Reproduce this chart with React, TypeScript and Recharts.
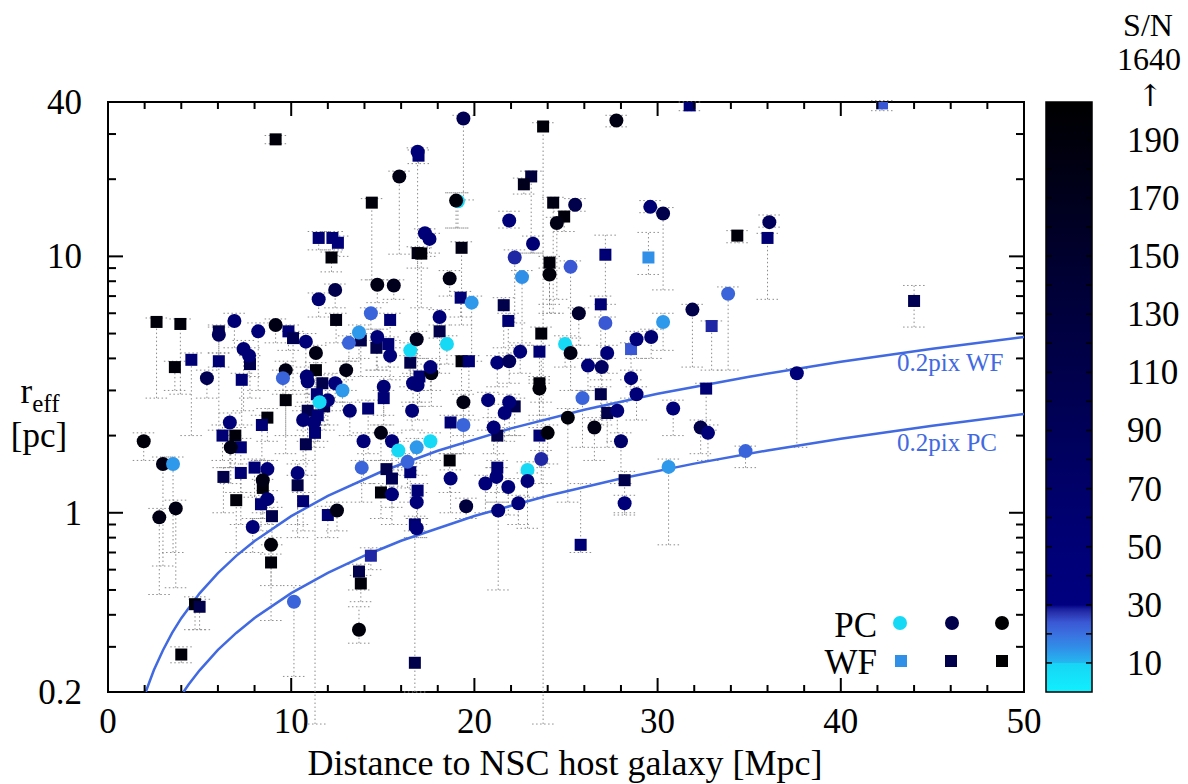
import { ScatterChart, Scatter, XAxis, YAxis, ErrorBar, ReferenceArea } from "recharts";

// page layout (px)
const W = 1188;
const H = 784;
const PLOT_LEFT = 108;
const PLOT_TOP = 102;
const PLOT_RIGHT = 1024;
const PLOT_BOTTOM = 692;
const PLOT_W = PLOT_RIGHT - PLOT_LEFT;
const PLOT_H = PLOT_BOTTOM - PLOT_TOP;

const FONT = "'Liberation Serif', 'DejaVu Serif', serif";
const CURVE_COLOR = "#4169e1";
const ERR_COLOR = "#8c8c8c";

const X_TICKS = [0, 2, 4, 6, 8, 10, 12, 14, 16, 18, 20, 22, 24, 26, 28, 30, 32, 34, 36, 38, 40, 42, 44, 46, 48, 50];
const X_LABELS = [0, 10, 20, 30, 40, 50];
const Y_TICKS = [0.2, 0.3, 0.4, 0.5, 0.6, 0.7, 0.8, 0.9, 1, 2, 3, 4, 5, 6, 7, 8, 9, 10, 20, 30, 40];
const Y_LABELS = [0.2, 1, 10, 40];
const Y_MAJOR = [1, 10];
const SN_TICKS = [10, 20, 30, 40, 50, 60, 70, 80, 90, 100, 110, 120, 130, 140, 150, 160, 170, 180, 190];
const SN_LABELS = [10, 30, 50, 70, 90, 110, 130, 150, 170, 190];
const SN_MAX = 203;

// colour palette of the S/N bar
const SN_STOPS: [number, string][] = [
  [0, "#10f0ff"],
  [9.9, "#18d4f4"],
  [10, "#24b8f0"],
  [15, "#3090e8"],
  [20, "#3a70e0"],
  [24, "#3a58d4"],
  [27, "#2a34b0"],
  [28.5, "#1a20a0"],
  [30, "#000080"],
  [60, "#000070"],
  [100, "#000052"],
  [140, "#000036"],
  [180, "#000014"],
  [203, "#000000"],
];

// 0.2 pixel resolution limits
const WF_CURVE_D = [2.06, 2.2, 2.5, 3, 3.5, 4, 5, 6, 7, 8, 10, 12, 15, 18, 22, 26, 30, 35, 40, 45, 50];
const WF_CURVE_R = [0.2, 0.213, 0.243, 0.291, 0.34, 0.388, 0.485, 0.582, 0.679, 0.776, 0.97, 1.164, 1.455, 1.746, 2.134, 2.522, 2.91, 3.395, 3.88, 4.365, 4.85];
const PC_CURVE_D = [4.12, 4.4, 5, 6, 7, 8, 10, 12, 14, 16, 20, 24, 28, 32, 36, 40, 45, 50];
const PC_CURVE_R = [0.2, 0.214, 0.243, 0.292, 0.34, 0.389, 0.486, 0.583, 0.68, 0.778, 0.972, 1.166, 1.361, 1.555, 1.75, 1.944, 2.187, 2.43];

// [distance Mpc, r_eff pc, S/N, lower bound, upper bound]
const PC_POINTS: [number, number, number, number, number][] = [
  [16.9, 25.6, 45, 3.0, 26.5], [19.4, 34.5, 100, 16.6, 35.5], [27.75, 33.9, 180, 32, 35.5],
  [15.9, 20.5, 180, 10.2, 21.5], [19.1, 16.4, 8, 12.9, 17.7], [19.0, 16.5, 190, 12.9, 17.7],
  [21.9, 13.8, 45, 12.9, 15], [25.5, 15.9, 110, 15, 16.8], [24.5, 13.5, 180, 6.8, 14.2],
  [29.6, 15.6, 50, 14.8, 16.5], [30.3, 14.7, 110, 7.4, 15.5], [36.1, 13.6, 90, 13, 14.5],
  [17.3, 12.3, 45, 10, 12.8], [17.55, 11.7, 50, 10.3, 12.3], [23.2, 11.2, 50, 10.3, 12],
  [22.2, 9.9, 28, 5.5, 10.6], [24.1, 8.5, 190, 6.5, 9], [25.25, 9.1, 24, 4.8, 9.6],
  [18.65, 8.2, 180, 7, 8.8], [22.6, 8.3, 15, 4.5, 8.8], [14.7, 7.75, 180, 6.6, 8.1],
  [15.6, 7.7, 170, 6.8, 8.1], [12.4, 7.4, 110, 6.3, 7.8], [11.5, 6.8, 60, 5.8, 7.2],
  [19.85, 6.6, 14, 3.9, 7], [25.7, 6.0, 150, 4.5, 6.3], [31.9, 6.2, 110, 3.7, 6.5],
  [33.85, 7.15, 22, 3.6, 7.6], [18.1, 5.8, 45, 4.8, 6.2], [27.15, 5.5, 24, 4.0, 5.8],
  [30.3, 5.55, 14, 4.3, 6.0], [6.9, 5.6, 50, 4.4, 6], [8.2, 5.1, 45, 3.0, 5.5],
  [9.15, 5.4, 180, 4.6, 5.7], [10.8, 4.65, 45, 2.6, 5.0], [14.35, 6.0, 22, 5.2, 6.3],
  [14.7, 4.85, 45, 3.6, 5.2], [13.7, 5.05, 14, 4.0, 5.4], [13.15, 4.6, 22, 3.9, 4.9],
  [6.05, 4.95, 90, 3.7, 5.3], [7.4, 4.35, 50, 2.5, 4.7], [7.7, 4.1, 50, 3.4, 4.4],
  [5.4, 3.35, 100, 2.8, 3.6], [9.7, 3.6, 180, 2.0, 3.9], [9.55, 3.35, 22, 2.9, 3.6],
  [11.35, 4.2, 180, 2.4, 4.5], [10.85, 3.4, 50, 2.9, 3.7], [10.9, 3.25, 50, 2.1, 3.5],
  [12.4, 3.2, 45, 2.7, 3.5], [13.0, 3.6, 180, 3.0, 3.9], [12.8, 3.0, 14, 2.5, 3.3],
  [15.4, 4.1, 45, 3.3, 4.4], [16.5, 4.3, 8, 3.4, 4.6], [16.85, 4.75, 170, 4.0, 5.1],
  [16.65, 3.2, 45, 2.6, 3.5], [16.9, 3.15, 50, 2.3, 3.4], [15.05, 3.1, 50, 2.4, 3.4],
  [16.6, 2.5, 45, 2.1, 2.7], [13.2, 2.5, 50, 2.0, 2.7], [12.0, 2.75, 45, 2.2, 3.0],
  [11.55, 2.7, 8, 2.2, 2.9], [10.65, 2.3, 50, 1.6, 2.5], [11.25, 2.25, 50, 1.8, 2.45],
  [6.65, 2.25, 45, 1.5, 2.45], [6.7, 1.8, 180, 1.3, 2.0], [1.95, 1.9, 190, 1.6, 2.05],
  [3.0, 1.55, 180, 0.62, 1.65], [3.55, 1.55, 14, 0.7, 1.65], [14.9, 2.05, 180, 1.6, 2.2],
  [13.95, 1.9, 45, 1.3, 2.05], [15.5, 1.9, 45, 1.5, 2.05], [15.85, 1.75, 8, 1.4, 1.9],
  [16.85, 1.8, 14, 1.4, 1.95], [16.35, 1.58, 22, 1.25, 1.7], [13.85, 1.5, 22, 1.1, 1.6],
  [15.5, 1.18, 45, 0.9, 1.27], [8.7, 1.48, 45, 1.1, 1.6], [8.45, 1.34, 180, 1.0, 1.45],
  [10.35, 1.43, 45, 0.8, 1.55], [8.7, 1.13, 50, 0.9, 1.22], [3.7, 1.04, 180, 0.51, 1.12],
  [2.8, 0.96, 180, 0.48, 1.04], [12.5, 1.02, 180, 0.85, 1.1], [17.6, 1.9, 8, 1.6, 2.05],
  [16.85, 1.1, 45, 0.9, 1.2], [16.85, 0.87, 45, 0.8, 0.95], [18.5, 4.55, 8, 3.8, 4.9],
  [17.65, 3.5, 180, 2.6, 3.8], [17.6, 3.7, 45, 3.0, 4.0], [24.95, 4.55, 8, 3.7, 4.9],
  [25.25, 4.2, 180, 3.0, 4.5], [28.85, 4.75, 45, 4.0, 5.1], [29.65, 4.85, 60, 4.0, 5.2],
  [27.25, 4.2, 45, 3.5, 4.5], [21.25, 3.85, 45, 3.1, 4.1], [21.9, 3.9, 90, 3.2, 4.2],
  [22.5, 4.25, 45, 3.5, 4.6], [26.2, 3.75, 45, 3.0, 4.0], [26.95, 3.7, 80, 2.2, 4.0],
  [23.55, 3.05, 190, 2.4, 3.3], [28.55, 3.35, 45, 2.8, 3.6], [25.9, 2.8, 22, 1.8, 3.0],
  [28.85, 2.9, 45, 2.3, 3.1], [19.4, 2.7, 180, 2.0, 2.9], [20.75, 2.75, 45, 2.1, 2.95],
  [21.9, 2.7, 45, 2.0, 2.9], [21.65, 2.45, 45, 1.9, 2.65], [25.1, 2.35, 190, 1.1, 2.55],
  [27.8, 2.5, 45, 1.9, 2.7], [30.85, 2.55, 45, 2.0, 2.75], [19.4, 2.2, 22, 1.7, 2.4],
  [21.05, 2.15, 45, 1.7, 2.35], [24.0, 2.05, 190, 1.55, 2.2], [26.55, 2.15, 180, 1.6, 2.35],
  [32.35, 2.15, 110, 1.7, 2.3], [32.75, 2.05, 45, 1.6, 2.2], [28.0, 1.9, 70, 1.3, 2.05],
  [18.7, 1.36, 45, 1.0, 1.47], [21.2, 1.38, 45, 1.1, 1.5], [20.6, 1.3, 45, 1.0, 1.4],
  [21.85, 1.26, 45, 0.98, 1.36], [22.9, 1.47, 8, 1.15, 1.58], [22.9, 1.33, 45, 0.87, 1.43],
  [23.65, 1.62, 28, 1.3, 1.75], [30.6, 1.51, 14, 0.75, 1.62], [28.2, 1.09, 45, 0.98, 1.17],
  [22.4, 1.09, 45, 0.9, 1.17], [19.55, 1.06, 130, 0.95, 1.14], [21.3, 1.02, 45, 0.5, 1.1],
  [37.6, 3.5, 45, 1.8, 3.65], [34.8, 1.74, 22, 1.5, 1.82], [7.9, 0.88, 45, 0.7, 0.95],
  [8.9, 0.75, 190, 0.52, 0.8], [10.15, 0.45, 22, 0.23, 0.52], [13.7, 0.35, 190, 0.31, 0.43],
];

const WF_POINTS: [number, number, number, number, number][] = [
  [9.15, 28.6, 190, 27.5, 29.6], [16.95, 24.7, 50, 23, 26], [14.4, 16.2, 190, 8.1, 16.8],
  [11.5, 11.8, 50, 10.6, 12.5], [12.25, 11.8, 50, 10.6, 12.5], [12.55, 11.3, 45, 10.0, 12.0],
  [12.2, 9.9, 190, 8.7, 10.4], [16.9, 10.3, 180, 9.0, 10.9], [23.75, 32.1, 190, 0.15, 33.2],
  [31.75, 38.8, 50, 37, 40], [23.1, 20.5, 130, 10.3, 21.5], [22.7, 19.1, 170, 17.5, 20.2],
  [24.3, 16.2, 180, 6.0, 17], [24.9, 14.3, 190, 12.5, 15], [17.1, 10.25, 190, 6.3, 10.8],
  [19.3, 10.8, 180, 5.4, 11.4], [27.15, 10.15, 50, 6.5, 12.1], [29.5, 9.9, 15, 8.5, 12.4],
  [24.1, 9.45, 190, 6.0, 10.0], [42.25, 39.5, 24, 37, 40.5], [34.35, 12.05, 190, 11.3, 12.6],
  [36.0, 11.8, 50, 6.8, 12.3], [44.0, 6.7, 100, 5.3, 7.7], [19.25, 6.9, 50, 5.8, 7.3],
  [21.6, 6.45, 110, 4.4, 6.9], [26.9, 6.5, 50, 3.3, 7.0], [2.65, 5.55, 190, 2.8, 5.75],
  [3.95, 5.45, 190, 2.9, 5.7], [9.85, 5.1, 50, 4.3, 5.4], [10.1, 4.8, 100, 3.0, 5.1],
  [12.45, 5.65, 180, 4.6, 6.0], [15.4, 5.65, 50, 4.7, 6.0], [6.05, 5.1, 110, 4.2, 5.4],
  [7.75, 3.8, 110, 2.8, 4.1], [3.65, 3.7, 190, 3.0, 3.9], [4.55, 3.95, 50, 2.0, 4.2],
  [6.05, 3.9, 50, 2.1, 4.2], [7.3, 3.3, 50, 2.2, 3.5], [11.35, 3.6, 190, 2.2, 3.85],
  [11.7, 3.2, 110, 2.6, 3.45], [13.8, 4.7, 110, 3.4, 5.0], [14.65, 4.4, 110, 3.6, 4.7],
  [15.3, 4.55, 50, 3.7, 4.85], [16.5, 3.85, 110, 3.1, 4.1], [15.05, 2.8, 50, 2.2, 3.0],
  [14.2, 2.55, 50, 1.7, 2.75], [11.4, 2.9, 50, 2.3, 3.1], [11.8, 2.6, 110, 2.1, 2.8],
  [10.9, 2.5, 110, 1.9, 2.7], [11.45, 2.4, 50, 1.9, 2.6], [9.7, 2.75, 190, 1.7, 3.0],
  [8.7, 2.35, 190, 1.9, 2.55], [8.4, 2.2, 50, 1.6, 2.4], [11.3, 2.05, 50, 0.15, 2.2],
  [6.25, 2.0, 50, 1.6, 2.2], [6.95, 2.0, 190, 1.5, 2.15], [7.25, 1.8, 50, 1.2, 1.95],
  [10.8, 1.85, 110, 1.4, 2.0], [16.5, 1.44, 50, 1.1, 1.56], [15.2, 1.48, 110, 1.15, 1.6],
  [15.5, 1.36, 100, 1.05, 1.47], [14.9, 1.2, 190, 0.95, 1.3], [8.0, 1.5, 50, 1.15, 1.62],
  [7.25, 1.43, 55, 0.9, 1.55], [6.3, 1.38, 110, 1.0, 1.5], [8.45, 1.25, 190, 0.95, 1.35],
  [10.35, 1.28, 120, 0.9, 1.4], [10.65, 1.11, 50, 0.85, 1.2], [8.35, 1.08, 50, 0.85, 1.17],
  [7.0, 1.12, 190, 0.7, 1.2], [8.95, 0.97, 110, 0.75, 1.05], [12.0, 0.98, 50, 0.8, 1.06],
  [8.9, 0.64, 190, 0.38, 0.69], [4.75, 0.44, 190, 0.35, 0.47], [5.0, 0.43, 110, 0.35, 0.46],
  [14.35, 0.68, 28, 0.6, 0.73], [13.7, 0.59, 110, 0.5, 0.63], [13.8, 0.53, 190, 0.45, 0.57],
  [4.0, 0.28, 190, 0.26, 0.3], [16.75, 0.26, 110, 0.2, 0.85], [16.75, 0.9, 50, 0.8, 0.97],
  [25.8, 0.75, 50, 0.7, 1.3], [21.85, 5.6, 50, 4.0, 6.0], [18.1, 5.1, 110, 3.5, 5.4],
  [23.65, 5.0, 190, 2.7, 5.3], [23.55, 4.25, 50, 3.2, 4.5], [28.55, 4.35, 24, 3.3, 4.6],
  [32.95, 5.35, 28, 3.6, 5.6], [19.3, 3.9, 190, 3.0, 4.1], [19.7, 3.9, 50, 2.3, 4.1],
  [17.0, 3.4, 50, 2.7, 3.6], [23.55, 3.2, 190, 2.3, 3.4], [26.9, 2.9, 110, 2.3, 3.1],
  [22.2, 2.6, 110, 2.0, 2.8], [27.25, 2.45, 110, 1.8, 2.6], [32.65, 3.05, 50, 2.1, 3.2],
  [18.7, 2.25, 50, 1.7, 2.4], [21.25, 2.0, 110, 1.5, 2.15], [23.55, 2.0, 50, 1.5, 2.15],
  [18.65, 1.6, 190, 1.2, 1.7], [21.25, 1.5, 50, 1.2, 1.6], [28.2, 1.34, 110, 1.0, 1.45],
  [16.9, 1.22, 50, 0.95, 1.3],
];

function hexToRgb(h: string) {
  const n = parseInt(h.slice(1), 16);
  return [n >> 16, (n >> 8) & 255, n & 255];
}

function snColor(sn: number): string {
  for (let i = 1; i < SN_STOPS.length; i++) {
    const [s1, c1] = SN_STOPS[i];
    if (sn <= s1) {
      const [s0, c0] = SN_STOPS[i - 1];
      const t = (sn - s0) / (s1 - s0);
      const a = hexToRgb(c0);
      const b = hexToRgb(c1);
      return `rgb(${a.map((v, k) => Math.round(v + (b[k] - v) * t)).join(",")})`;
    }
  }
  return SN_STOPS[SN_STOPS.length - 1][1];
}

const toRows = (pts: [number, number, number, number, number][]) =>
  pts.map(([d, r, sn, lo, hi]) => ({ d, r, sn, err: [r - lo, hi - r] }));

const pcData = toRows(PC_POINTS);
const wfData = toRows(WF_POINTS);
const wfCurve = WF_CURVE_D.map((d, i) => ({ d, r: WF_CURVE_R[i] }));
const pcCurve = PC_CURVE_D.map((d, i) => ({ d, r: PC_CURVE_R[i] }));

const snY = (sn: number) => PLOT_BOTTOM - (sn / SN_MAX) * PLOT_H;

function XTick(props: any) {
  const { x, y, payload } = props;
  const v = payload.value;
  const major = X_LABELS.includes(v);
  const len = major ? 14 : 7;
  return (
    <g>
      <line x1={x} x2={x} y1={y} y2={y - len} stroke="#000" strokeWidth={2} />
      <line x1={x} x2={x} y1={y - PLOT_H} y2={y - PLOT_H + len} stroke="#000" strokeWidth={2} />
      {major && (
        <text x={x} y={y + 41} textAnchor="middle" fontSize={35} fontFamily={FONT} fill="#000">
          {v}
        </text>
      )}
    </g>
  );
}

function YTick(props: any) {
  const { x, y, payload } = props;
  const v = payload.value;
  const len = Y_MAJOR.includes(v) ? 15 : 8;
  return (
    <g>
      <line x1={x} x2={x + len} y1={y} y2={y} stroke="#000" strokeWidth={2} />
      <line x1={x + PLOT_W} x2={x + PLOT_W - len} y1={y} y2={y} stroke="#000" strokeWidth={2} />
      {Y_LABELS.includes(v) && (
        <text x={x - 26} y={y + 12} textAnchor="end" fontSize={35} fontFamily={FONT} fill="#000">
          {v}
        </text>
      )}
    </g>
  );
}

const Dot = (p: any) => <circle cx={p.cx} cy={p.cy} r={7} fill={snColor(p.payload.sn)} />;
const Sq = (p: any) => (
  <rect x={p.cx - 6} y={p.cy - 6} width={12} height={12} fill={snColor(p.payload.sn)} />
);
const NoShape = () => <g />;

export default function App() {
  return (
    <div style={{ position: "absolute", left: 0, top: 0, width: W, height: H, background: "#fff", fontFamily: FONT }}>
      <ScatterChart width={W} height={H} margin={{ top: PLOT_TOP, right: W - PLOT_RIGHT, bottom: 0, left: 0 }}>
        <XAxis
          dataKey="d"
          type="number"
          domain={[0, 50]}
          ticks={X_TICKS}
          interval={0}
          allowDataOverflow
          axisLine={false}
          tickLine={false}
          tickSize={0}
          tickMargin={0}
          height={H - PLOT_BOTTOM}
          tick={XTick}
        />
        <YAxis
          dataKey="r"
          type="number"
          scale="log"
          domain={[0.2, 40]}
          ticks={Y_TICKS}
          interval={0}
          allowDataOverflow
          axisLine={false}
          tickLine={false}
          tickSize={0}
          tickMargin={0}
          width={PLOT_LEFT}
          tick={YTick}
        />
        {/* error bars first, so every marker sits on top */}
        <Scatter data={wfData} shape={NoShape} isAnimationActive={false}>
          <ErrorBar dataKey="err" direction="y" width={11} stroke={ERR_COLOR} strokeWidth={1} strokeDasharray="1.5 2.5" isAnimationActive={false} />
        </Scatter>
        <Scatter data={pcData} shape={NoShape} isAnimationActive={false}>
          <ErrorBar dataKey="err" direction="y" width={11} stroke={ERR_COLOR} strokeWidth={1} strokeDasharray="1.5 2.5" isAnimationActive={false} />
        </Scatter>
        <Scatter data={wfCurve} shape={NoShape} line={{ stroke: CURVE_COLOR, strokeWidth: 2.5 }} isAnimationActive={false} />
        <Scatter data={pcCurve} shape={NoShape} line={{ stroke: CURVE_COLOR, strokeWidth: 2.5 }} isAnimationActive={false} />
        <Scatter data={wfData} shape={Sq} isAnimationActive={false} />
        <Scatter data={pcData} shape={Dot} isAnimationActive={false} />
        <ReferenceArea x1={0} x2={50} y1={0.2} y2={40} fill="none" fillOpacity={0} stroke="#000" strokeWidth={2} />
      </ScatterChart>

      <svg width={W} height={H} style={{ position: "absolute", left: 0, top: 0, pointerEvents: "none" }} fontFamily={FONT}>
        <defs>
          <linearGradient id="snbar" x1="0" y1="1" x2="0" y2="0">
            {SN_STOPS.map(([s, c], i) => (
              <stop key={i} offset={s / SN_MAX} stopColor={c} />
            ))}
          </linearGradient>
        </defs>

        {/* axis titles */}
        <text x={565} y={775} textAnchor="middle" fontSize={36}>
          Distance to NSC host galaxy [Mpc]
        </text>
        <text x={40} y={403} textAnchor="middle" fontSize={35}>
          r<tspan dy={9} fontSize={25}>eff</tspan>
        </text>
        <text x={39} y={447} textAnchor="middle" fontSize={35}>
          [pc]
        </text>

        {/* curve labels */}
        <text x={897} y={371} fontSize={25} fill={CURVE_COLOR}>0.2pix WF</text>
        <text x={897} y={451} fontSize={25} fill={CURVE_COLOR}>0.2pix PC</text>

        {/* legend */}
        <text x={877} y={637} textAnchor="end" fontSize={35}>PC</text>
        <text x={877} y={674} textAnchor="end" fontSize={35}>WF</text>
        <circle cx={900} cy={623} r={7} fill={snColor(8)} />
        <circle cx={952} cy={623} r={7} fill={snColor(110)} />
        <circle cx={1002} cy={623} r={7} fill={snColor(200)} />
        <rect x={895} y={655} width={12} height={12} fill={snColor(15)} />
        <rect x={945} y={655} width={12} height={12} fill={snColor(110)} />
        <rect x={996} y={655} width={12} height={12} fill={snColor(200)} />

        {/* colour bar */}
        <rect x={1046} y={PLOT_TOP} width={46} height={PLOT_H} fill="url(#snbar)" stroke="#000" strokeWidth={1.5} />
        {SN_TICKS.map((s) => (
          <g key={s}>
            <line x1={1046} x2={1052} y1={snY(s)} y2={snY(s)} stroke="#000" strokeWidth={1.5} />
            <line x1={1092} x2={1086} y1={snY(s)} y2={snY(s)} stroke="#000" strokeWidth={1.5} />
          </g>
        ))}
        {SN_LABELS.map((s) => (
          <text key={s} x={1127} y={snY(s) + 12} fontSize={35}>
            {s}
          </text>
        ))}
        <text x={1148} y={36} textAnchor="middle" fontSize={32}>S/N</text>
        <text x={1149} y={70} textAnchor="middle" fontSize={32}>1640</text>
        <text x={1150} y={106} textAnchor="middle" fontSize={30} fontFamily="'DejaVu Serif', serif">↑</text>
      </svg>
    </div>
  );
}
